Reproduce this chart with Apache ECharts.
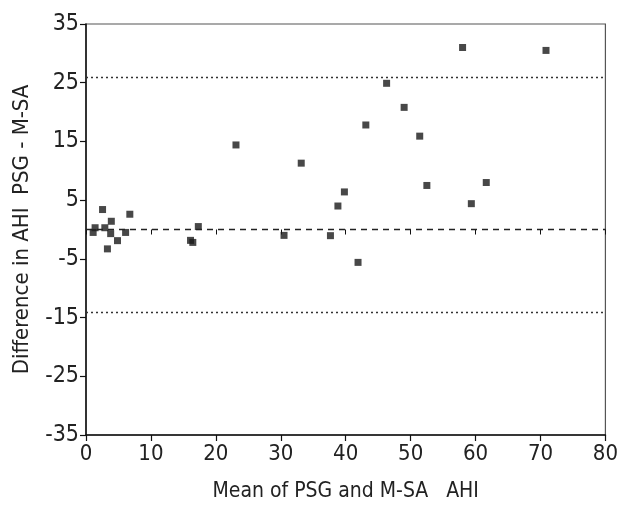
<!DOCTYPE html>
<html><head><meta charset="utf-8">
<script src="https://cdn.jsdelivr.net/npm/echarts@6/dist/echarts.min.js"></script>
<style>html,body{margin:0;padding:0;background:#fff}#c{width:621px;height:507px}</style>
</head><body><div id="c"></div>
<script>
const meanAHI = [1.1, 1.4, 2.55, 2.9, 3.9, 3.8, 3.3, 4.85, 6.1, 6.75, 16.1, 16.45, 17.3, 23.1, 30.5, 33.15, 37.65, 38.8, 39.8, 41.9, 43.1, 46.3, 49.0, 51.4, 52.5, 58.0, 59.35, 61.65, 70.85];
const diffAHI = [-0.5, 0.3, 3.4, 0.3, 1.4, -0.7, -3.3, -1.9, -0.5, 2.6, -1.85, -2.2, 0.5, 14.4, -1.0, 11.3, -1.05, 4.0, 6.4, -5.6, 17.8, 24.9, 20.8, 15.9, 7.5, 31.0, 4.4, 8.0, 30.5];
const upperLimit = 25.9;
const lowerLimit = -14.1;
const zeroLine = 0;
const xTicks = [0, 10, 20, 30, 40, 50, 60, 70, 80];
const yTicks = [-35, -25, -15, -5, 5, 15, 25, 35];

const font = '"DejaVu Sans Condensed", "Liberation Sans", sans-serif';
const chart = echarts.init(document.getElementById('c'));
chart.setOption({
  animation: false,
  backgroundColor: '#fff',
  grid: {left: 86, right: 13, top: 24, bottom: 67, show: true, borderColor: '#555', borderWidth: 1.2},
  xAxis: [{
    type: 'value', min: xTicks[0], max: xTicks[xTicks.length-1], interval: 10,
    axisLine: {onZero: false, lineStyle: {color: '#111', width: 1.5}},
    axisTick: {show: true, length: 6, lineStyle: {color: '#111', width: 1.2}},
    axisLabel: {color: '#222', fontSize: 22, fontFamily: font, margin: 8},
    splitLine: {show: false},
    name: 'Mean of PSG and M-SA   AHI', nameLocation: 'middle', nameGap: 46,
    nameTextStyle: {color: '#222', fontSize: 21, fontFamily: font}
  }, {
    type: 'value', min: xTicks[0], max: xTicks[xTicks.length-1], interval: 10,
    axisLine: {show: false, onZero: true},
    axisTick: {show: true, inside: true, length: 5, lineStyle: {color: '#111', width: 1}},
    axisLabel: {show: false}, splitLine: {show: false}
  }],
  yAxis: {
    type: 'value', min: yTicks[0], max: yTicks[yTicks.length-1], interval: 10,
    axisLine: {show: true, lineStyle: {color: '#111', width: 1.5}},
    axisTick: {show: true, length: 6, lineStyle: {color: '#111', width: 1.2}},
    axisLabel: {color: '#222', fontSize: 23, fontFamily: font, margin: 7},
    splitLine: {show: false},
    name: 'Difference in AHI  PSG - M-SA', nameLocation: 'middle', nameGap: 53,
    nameTextStyle: {color: '#222', fontSize: 22, fontFamily: font}
  },
  series: [{
    type: 'scatter', xAxisIndex: 0,
    data: meanAHI.map((x, i) => [x, diffAHI[i]]),
    symbol: 'rect', symbolSize: 7,
    itemStyle: {color: '#1a1a1a'},
    markLine: {
      silent: true, symbol: 'none', label: {show: false},
      data: [
        {yAxis: upperLimit, lineStyle: {type: [2, 3], color: '#333', width: 1.3}},
        {yAxis: lowerLimit, lineStyle: {type: [2, 3], color: '#333', width: 1.3}},
        {yAxis: zeroLine, lineStyle: {type: [6, 5], color: '#222', width: 1.3}}
      ]
    }
  }]
});
</script></body></html>
